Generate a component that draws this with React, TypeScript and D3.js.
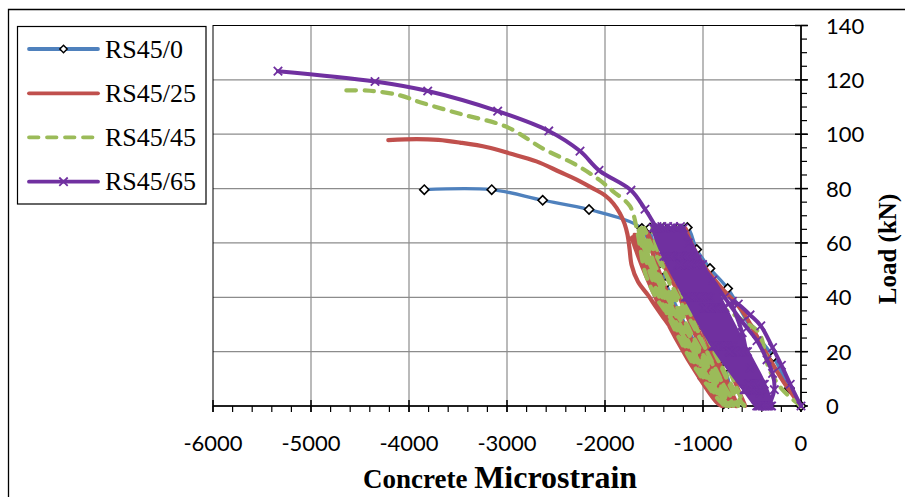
import React from 'react';
import * as d3 from 'd3';

type P = [number, number];

const xTicks = [-6000, -5000, -4000, -3000, -2000, -1000, 0];
const yTicks = [0, 20, 40, 60, 80, 100, 120, 140];
const seriesNames = ['RS45/0', 'RS45/25', 'RS45/45', 'RS45/65'];

// RS45/0 (strain, load)
const rs45_0: P[] = [
  [0, 0], [-119, 6.5], [-282, 18.1], [-503, 28.4], [-748, 43.2], [-929, 50.6], [-1064, 57.6], [-1160, 65.7], [-1262, 65.3],
  [-1133, 50.0], [-962, 29.0], [-809, 13.0], [-694, 1.6],
  [-776, 14.0], [-960, 33.0], [-1153, 50.0], [-1320, 62.0], [-1400, 65.5],
  [-1280, 50.0], [-1100, 30.0], [-900, 12.0], [-740, 1.0],
  [-860, 16.0], [-1031, 30.0], [-1235, 46.0], [-1420, 59.0], [-1541, 65.5],
  [-1420, 50.0], [-1235, 28.7], [-1000, 10.0], [-790, 0.8],
  [-900, 12.0], [-1153, 28.0], [-1380, 45.0], [-1541, 58.5], [-1624, 65.3],
  [-2163, 72.3], [-2636, 75.7], [-3156, 79.6], [-3844, 79.6],
];

// RS45/25
const rs45_25: P[] = [
  [0, 0], [-180, 9], [-380, 21], [-600, 35], [-800, 43], [-1000, 52], [-1120, 60], [-1180, 65.5],
  [-1150, 60], [-1050, 48], [-880, 30], [-720, 14], [-600, 2], [-570, 0],
  [-640, 6], [-800, 20], [-1000, 38], [-1180, 53], [-1300, 62], [-1350, 65],
  [-1300, 58], [-1180, 45], [-1000, 28], [-820, 12], [-680, 1], [-650, 0],
  [-720, 6], [-880, 20], [-1060, 36], [-1250, 51], [-1370, 61], [-1400, 65],
  [-1350, 58], [-1230, 45], [-1050, 28], [-860, 12], [-700, 1], [-660, 0],
  [-730, 6], [-900, 21], [-1100, 38], [-1290, 52], [-1420, 62], [-1460, 65],
  [-1410, 58], [-1290, 45], [-1100, 28], [-900, 12], [-740, 1], [-710, 0],
  [-790, 6], [-970, 20], [-1180, 37], [-1390, 51], [-1530, 61], [-1570, 64],
  [-1520, 57], [-1390, 44], [-1190, 27], [-970, 11], [-790, 1], [-760, 0],
  [-850, 6], [-1040, 19], [-1260, 34], [-1480, 47], [-1630, 58], [-1680, 63],
  [-1620, 56], [-1470, 43], [-1240, 26], [-1000, 10], [-830, 1], [-800, 0],
  [-880, 6], [-1070, 19], [-1300, 34], [-1520, 47], [-1650, 57], [-1700, 63],
  [-1640, 56], [-1490, 43], [-1260, 26], [-1010, 10], [-840, 1], [-805, 0],
  [-890, 6], [-1090, 19], [-1330, 34], [-1550, 47], [-1680, 57], [-1725, 62],
  [-1660, 55], [-1510, 42], [-1280, 25], [-1030, 10], [-850, 1], [-800, 0],
  [-857, 3.3], [-1000, 10], [-1133, 17], [-1316, 28], [-1421, 33.4], [-1490, 37], [-1561, 40.8], [-1663, 45.7],
  [-1728, 51.8], [-1750, 58], [-1770, 63], [-1800, 67], [-1850, 71], [-1915, 74.5], [-2000, 77.5], [-2119, 80],
  [-2300, 83.5], [-2459, 86.1], [-2700, 90], [-2969, 92.9], [-3200, 95.2], [-3480, 96.9], [-3700, 97.9],
  [-3922, 98.2], [-4211, 97.8],
];

// RS45/45
const rs45_45: P[] = [
  [0, 0], [-190, 6], [-330, 14], [-380, 22], [-430, 27], [-554, 30.5], [-700, 34], [-827, 37], [-1000, 46],
  [-1150, 54], [-1280, 61], [-1350, 65.5],
  [-1300, 58], [-1180, 46], [-1000, 30], [-800, 14], [-620, 2], [-580, 0],
  [-660, 7], [-840, 22], [-1050, 38], [-1260, 53], [-1400, 62], [-1440, 65.5],
  [-1390, 58], [-1260, 45], [-1070, 29], [-870, 13], [-680, 1.5], [-640, 0],
  [-720, 7], [-900, 21], [-1120, 37], [-1330, 52], [-1480, 62], [-1520, 65.5],
  [-1470, 58], [-1340, 45], [-1150, 29], [-930, 13], [-730, 1.5], [-690, 0],
  [-780, 7], [-960, 20], [-1180, 35], [-1400, 50], [-1550, 61], [-1600, 65.5],
  [-1550, 58], [-1420, 45], [-1220, 29], [-990, 13], [-770, 1.5], [-730, 0],
  [-810, 7], [-1000, 19], [-1230, 34], [-1440, 48], [-1580, 59], [-1630, 65.5],
  [-1580, 58], [-1450, 45], [-1250, 29], [-1010, 13], [-790, 1.5], [-745, 0],
  [-830, 7], [-1020, 19], [-1260, 34], [-1470, 48], [-1600, 59], [-1650, 65],
  [-1600, 58], [-1470, 45], [-1280, 29], [-1040, 13], [-810, 1.5], [-760, 0],
  [-840, 7], [-1030, 19], [-1270, 34], [-1490, 48], [-1610, 59], [-1660, 65],
  [-1610, 57], [-1490, 44], [-1300, 29], [-1060, 13], [-820, 1.5], [-770, 0],
  [-850, 6], [-1020, 16], [-1260, 29], [-1480, 40], [-1590, 49], [-1640, 58], [-1670, 64],
  [-1745, 73.5], [-1918, 79], [-2051, 83], [-2289, 88.6], [-2633, 94.7], [-3003, 102.7], [-3480, 107.5],
  [-3888, 111.8], [-4092, 114.3], [-4398, 116], [-4687, 116.1],
];

// RS45/65
const rs45_65: P[] = [
  [0, 0], [-110, 8], [-200, 15], [-290, 21.5], [-410, 29.5], [-520, 33.5], [-640, 37.5], [-700, 38.5],
  [-600, 27], [-520, 14], [-418, 4.8], [-347, 0],
  [-272, 6], [-290, 12], [-347, 17], [-449, 24], [-600, 31], [-780, 40], [-900, 46.3], [-1060, 54], [-1150, 60], [-1200, 65.5],
  [-1111, 55], [-929, 40], [-694, 22], [-413, 6], [-300, 0],
  [-374, 8], [-546, 20], [-775, 36], [-1004, 52], [-1230, 66],
  [-1138, 55], [-951, 40], [-711, 22], [-425, 6], [-310, 0],
  [-387, 8], [-563, 20], [-796, 36], [-1030, 52], [-1260, 65.5],
  [-1167, 55], [-977, 40], [-734, 22], [-446, 6], [-330, 0],
  [-409, 8], [-589, 20], [-827, 36], [-1066, 52], [-1300, 66],
  [-1202, 55], [-1005, 40], [-754, 22], [-458, 6], [-340, 0],
  [-422, 8], [-605, 20], [-848, 36], [-1092, 52], [-1330, 65.5],
  [-1231, 55], [-1032, 40], [-778, 22], [-479, 6], [-360, 0],
  [-443, 8], [-628, 20], [-874, 36], [-1120, 52], [-1360, 66],
  [-1258, 55], [-1054, 40], [-795, 22], [-491, 6], [-370, 0],
  [-455, 8], [-644, 20], [-895, 36], [-1146, 52], [-1390, 65.5],
  [-1286, 55], [-1080, 40], [-818, 22], [-512, 6], [-390, 0],
  [-477, 8], [-667, 20], [-921, 36], [-1174, 52], [-1420, 66],
  [-1313, 55], [-1102, 40], [-835, 22], [-524, 6], [-400, 0],
  [-488, 8], [-680, 20], [-936, 36], [-1192, 52], [-1440, 65.5],
  [-1333, 55], [-1122, 40], [-855, 22], [-544, 6], [-420, 0],
  [-509, 8], [-703, 20], [-962, 36], [-1220, 52], [-1470, 66],
  [-1360, 55], [-1145, 40], [-872, 22], [-556, 6], [-430, 0],
  [-520, 8], [-716, 20], [-977, 36], [-1238, 52], [-1490, 65.5],
  [-1378, 55], [-1161, 40], [-885, 22], [-567, 6], [-440, 0],
  [-532, 8], [-730, 20], [-993, 36], [-1256, 52], [-1510, 65.5],
  [-1400, 55], [-1180, 40], [-900, 22], [-580, 6], [-452, 0],
  [-538, 8], [-726, 20], [-977, 36], [-1228, 52], [-1472, 65.5],
  [-1592, 72.4], [-1735, 79.4], [-2061, 86.7], [-2255, 93.8], [-2574, 101.2], [-3095, 108.5],
  [-3809, 115.9], [-4347, 119.4], [-5337, 123.2],
];

const colors = ['#4F81BD', '#C0504D', '#9BBB59', '#7030A0'];

export default function App() {
  const W = 905;
  const H = 497;
  const left = 213;
  const right = 801;
  const top = 25.5;
  const bottom = 406;
  const x = d3.scaleLinear().domain([-6000, 0]).range([left, right]);
  const y = d3.scaleLinear().domain([0, 140]).range([bottom, top]);

  const line = d3
    .line<P>()
    .x((d) => x(d[0]))
    .y((d) => y(d[1]))
    .curve(d3.curveCatmullRom.alpha(0.5));

  const xMinor = d3.range(-6000, 1, 200);
  const yMinor = d3.range(0, 141, 5);

  const diamond = 'M0,-4.6L4.6,0L0,4.6L-4.6,0Z';
  const cross = 'M-4.2,-4.2L4.2,4.2M-4.2,4.2L4.2,-4.2';

  const tickFont = 'Lato, "Open Sans", sans-serif';
  const serif = '"Liberation Serif", "Times New Roman", serif';

  const legendRows = [49, 93.3, 137.3, 181.7];

  return (
    <svg width={W} height={H} style={{ position: 'absolute', left: 0, top: 0, background: '#fff' }}>
      <rect x={0} y={0} width={W} height={H} fill="#fff" />
      {/* outer frame */}
      <path d={`M8.5,${H + 2}L8.5,9.5L${W + 2},9.5`} fill="none" stroke="#000" strokeWidth={1.3} />

      {/* gridlines */}
      {xTicks.filter((t) => t > -6000 && t < 0).map((t) => (
        <line key={'gx' + t} x1={x(t)} x2={x(t)} y1={top} y2={bottom} stroke="#8c8c8c" strokeWidth={1.2} />
      ))}
      {yTicks.filter((t) => t > 0 && t < 140).map((t) => (
        <line key={'gy' + t} x1={left} x2={right} y1={y(t)} y2={y(t)} stroke="#8c8c8c" strokeWidth={1.2} />
      ))}
      {/* plot frame */}
      <rect x={left} y={top} width={right - left} height={bottom - top} fill="none" stroke="#000" strokeWidth={1} />

      {/* x axis */}
      <line x1={left} x2={right} y1={bottom} y2={bottom} stroke="#000" strokeWidth={1.6} />
      {xMinor.map((t) => (
        <line key={'xm' + t} x1={x(t)} x2={x(t)} y1={bottom} y2={bottom + 6} stroke="#000" strokeWidth={1.2} />
      ))}
      {xTicks.map((t) => (
        <line key={'xt' + t} x1={x(t)} x2={x(t)} y1={bottom - 6} y2={bottom + 6} stroke="#000" strokeWidth={1.5} />
      ))}
      {xTicks.map((t) => (
        <text key={'xl' + t} x={x(t)} y={451} textAnchor="middle" fontFamily={tickFont} fontSize={22} fill="#000">
          {t}
        </text>
      ))}

      {/* y axis (at strain 0, right side) */}
      <line x1={x(0)} x2={x(0)} y1={top} y2={bottom} stroke="#000" strokeWidth={1.6} />
      {yMinor.map((t) => (
        <line key={'ym' + t} x1={x(0)} x2={x(0) + 6} y1={y(t)} y2={y(t)} stroke="#000" strokeWidth={1.2} />
      ))}
      {yTicks.map((t) => (
        <line key={'yt' + t} x1={x(0) - 6} x2={x(0) + 7} y1={y(t)} y2={y(t)} stroke="#000" strokeWidth={1.5} />
      ))}
      {yTicks.map((t) => (
        <text key={'yl' + t} x={826} y={y(t) + 8} textAnchor="start" fontFamily={tickFont} fontSize={22} fill="#000">
          {t}
        </text>
      ))}

      {/* series */}
      <g>
        <path d={line(rs45_0) || ''} fill="none" stroke={colors[0]} strokeWidth={3.3} strokeLinejoin="round" strokeLinecap="round" />
        {rs45_0.map((d, i) => (
          <path key={'m0' + i} d={diamond} transform={`translate(${x(d[0])},${y(d[1])})`} fill="#fff" stroke="#000" strokeWidth={1.6} />
        ))}
        <path d={line(rs45_25) || ''} fill="none" stroke={colors[1]} strokeWidth={4.2} strokeLinejoin="round" strokeLinecap="round" />
        <path d={line(rs45_45) || ''} fill="none" stroke={colors[2]} strokeWidth={4.2} strokeDasharray="9.5 8.5" strokeLinejoin="round" strokeLinecap="round" />
        <path d={line(rs45_65) || ''} fill="none" stroke={colors[3]} strokeWidth={4} strokeLinejoin="round" strokeLinecap="round" />
        {rs45_65.map((d, i) => (
          <path key={'m3' + i} d={cross} transform={`translate(${x(d[0])},${y(d[1])})`} fill="none" stroke={colors[3]} strokeWidth={1.8} />
        ))}
      </g>

      {/* legend */}
      <rect x={17.5} y={26.5} width={188.5} height={177.5} fill="#fff" stroke="#000" strokeWidth={1.2} />
      {seriesNames.map((name, i) => (
        <g key={name}>
          <line
            x1={29}
            x2={98}
            y1={legendRows[i]}
            y2={legendRows[i]}
            stroke={colors[i]}
            strokeWidth={3.8}
            strokeLinecap="round"
            strokeDasharray={i === 2 ? '9.5 8.5' : undefined}
          />
          {i === 0 && <path d={diamond} transform={`translate(63.5,${legendRows[i]}) scale(0.8)`} fill="#fff" stroke="#000" strokeWidth={1.8} />}
          {i === 3 && <path d={cross} transform={`translate(63.5,${legendRows[i]})`} fill="none" stroke={colors[3]} strokeWidth={1.8} />}
          <text x={105} y={legendRows[i] + 8.5} fontFamily={serif} fontSize={26} fill="#000">
            {name}
          </text>
        </g>
      ))}

      {/* axis titles */}
      <text x={500} y={488} textAnchor="middle" fontFamily={serif} fontWeight="bold" fill="#000">
        <tspan fontSize={27}>Concrete </tspan>
        <tspan fontSize={32}>Microstrain</tspan>
      </text>
      <text
        transform="translate(896,249) rotate(-90)"
        textAnchor="middle"
        fontFamily={serif}
        fontWeight="bold"
        fontSize={25}
        fill="#000"
      >
        Load (kN)
      </text>
    </svg>
  );
}
